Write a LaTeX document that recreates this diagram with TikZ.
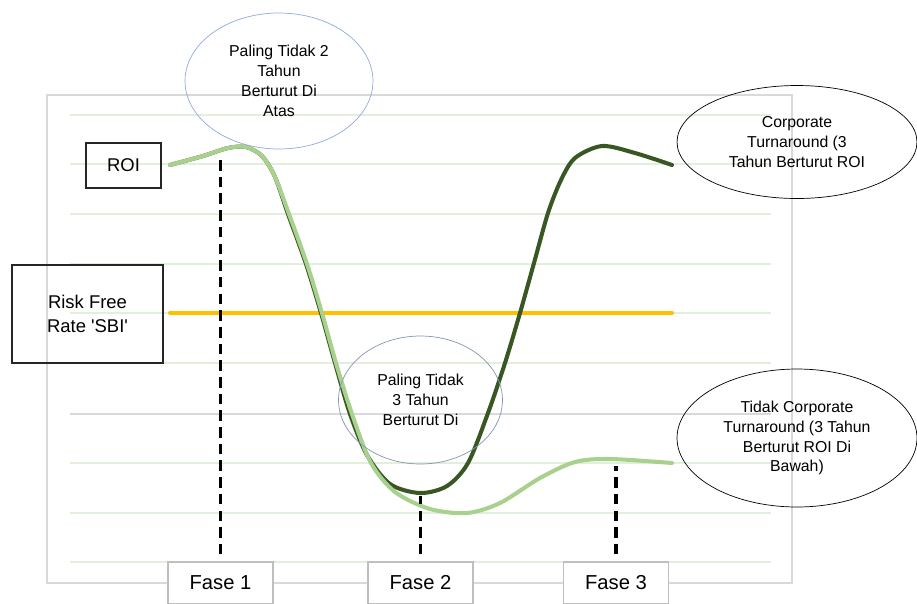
\documentclass[tikz,border=0pt]{standalone}
\usepackage{fontspec}
\setmainfont{Liberation Sans}
\usepackage{tikz}
\usetikzlibrary{shapes.geometric,positioning}
\definecolor{lightgrn}{HTML}{A9D18E}
\definecolor{darkgrn}{HTML}{385723}
\definecolor{gridgrn}{HTML}{E2EFDA}
\definecolor{framegray}{HTML}{D9D9D9}
\definecolor{fasegray}{HTML}{BFBFBF}
\definecolor{sbiorange}{HTML}{FFC000}
\definecolor{ovalblue}{HTML}{8FAADC}
\definecolor{ovalslate}{HTML}{8497B0}

\begin{document}
\begin{tikzpicture}[x=0.02cm,y=-0.02cm,ovalnode/.style={ellipse,draw,align=center,inner sep=0pt,font=\fontsize{9}{11.3}\selectfont},boxnode/.style={rectangle,draw=black!85,line width=0.8pt,align=center,font=\fontsize{10.5}{14}\selectfont},fasenode/.style={rectangle,draw=fasegray,fill=white,line width=0.6pt,minimum width=2.1cm,minimum height=0.84cm,font=\fontsize{11.5}{14}\selectfont},phaseline/.style={line width=1.9pt,dash pattern=on 6pt off 3.5pt},roiline/.style={line width=2.3pt,line cap=round}]
		\useasboundingbox (0,0) rectangle (917,603);
		% chart area
		\draw[framegray,line width=0.6pt] (47,95) rectangle (792,583);
		\foreach \y in {115,164,214,264,313,363,463,513,562}
			\draw[gridgrn,line width=0.6pt] (70,\y) -- (771,\y);
		\draw[framegray,line width=0.8pt] (70,414) -- (771,414);
		% lines
		\draw[sbiorange,roiline] (170,313) -- (672,313);
		\draw[darkgrn,roiline] plot[smooth,tension=0.5] coordinates {(170,165) (203,156) (228,148) (246,147) (262,156) (275,177) (288,214) (306,264) (321,313) (335,363) (350,414) (367,455) (390,484) (420,493) (447,486) (468,463) (488,413) (505,363) (520,313) (534,263) (548,213) (561,180) (575,158) (602,146) (635,153) (672,165)};
		\draw[lightgrn,roiline] plot[smooth,tension=0.5] coordinates {(170,165) (203,156) (228,148) (246,147) (262,156) (275,177) (289,214) (307,264) (322,313) (336,363) (352,414) (371,463) (395,492) (430,509) (467,513) (500,503) (540,478) (575,462) (610,459) (672,463)};
		% labels
		\node [boxnode,minimum width=1.5cm,minimum height=0.9cm] (roi) at (123.5,165.5) {ROI};
		\node [boxnode,minimum width=3.02cm,minimum height=1.96cm] (rf) at (87.5,314) {Risk Free\\Rate \textquotesingle SBI\textquotesingle};
		\node [ovalnode,draw=ovalblue,minimum width=3.76cm,minimum height=2.72cm] (top) at (279,81) {Paling Tidak 2\\Tahun\\Berturut Di\\Atas};
		\node [ovalnode,draw=ovalslate,minimum width=3.28cm,minimum height=2.56cm] (mid) at (420.5,400) {Paling Tidak\\3 Tahun\\Berturut Di};
		\node [ovalnode,minimum width=4.8cm,minimum height=2.26cm] (ct) at (797,142) {Corporate\\Turnaround (3\\Tahun Berturut ROI};
		\node [ovalnode,minimum width=4.8cm,minimum height=2.76cm] (nct) at (797,438) {Tidak Corporate\\Turnaround (3 Tahun\\Berturut ROI Di\\Bawah)};
		\node [fasenode] (f1) at (220.5,583) {Fase 1};
		\node [fasenode] (f2) at (420.5,583) {Fase 2};
		\node [fasenode] (f3) at (616,583) {Fase 3};
		\draw[phaseline] ([yshift=0.14cm]f1.north) -- ++(0,-400);
		\draw[phaseline] ([yshift=0.14cm]f2.north) -- ++(0,-58);
		\draw[phaseline] ([yshift=0.14cm]f3.north) -- ++(0,-88);
	\end{tikzpicture}
\end{document}
